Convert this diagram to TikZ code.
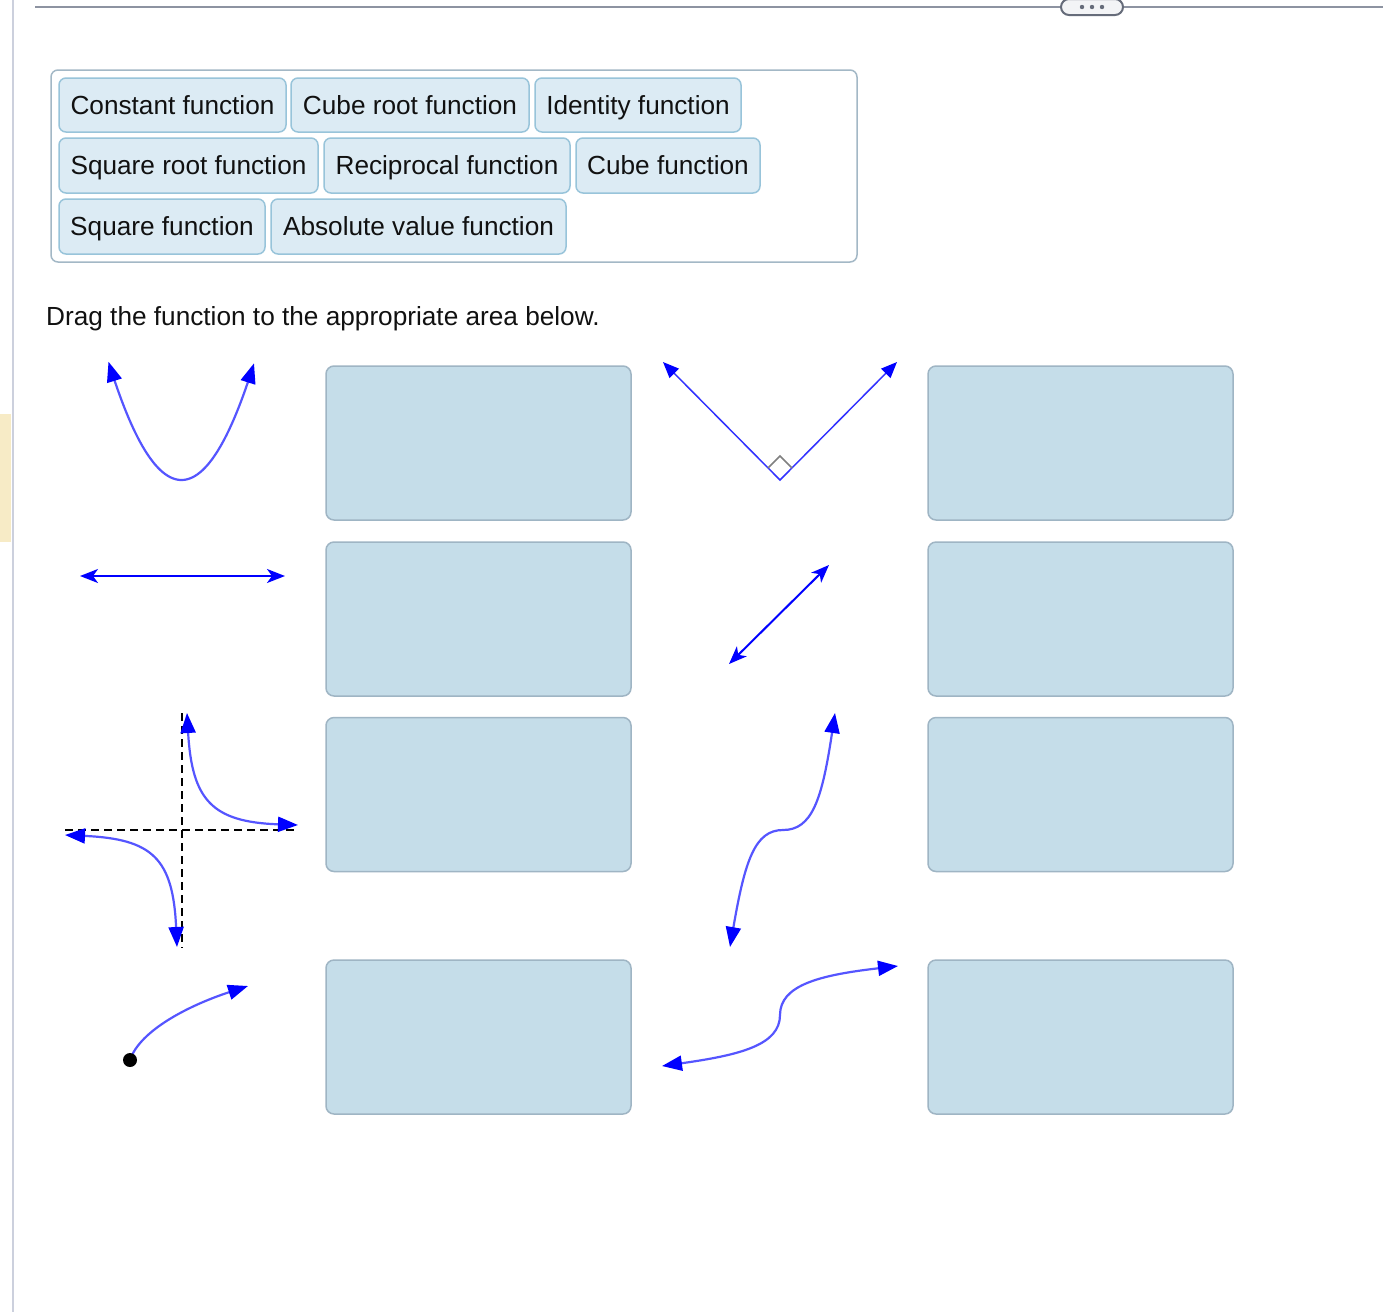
\documentclass[tikz,border=0pt]{standalone}
\usepackage{fontspec}
\setmainfont{Liberation Sans}
\usetikzlibrary{arrows.meta}
\definecolor{chipfill}{HTML}{DCEBF4}
\definecolor{chipline}{HTML}{98C4DA}
\definecolor{dropfill}{HTML}{C5DDE9}
\definecolor{dropline}{HTML}{9FB5C4}
\definecolor{outerline}{HTML}{A3B8C6}
\definecolor{sideline}{HTML}{CCD0DD}
\definecolor{topline}{HTML}{8D93A1}
\definecolor{pillline}{HTML}{666C7A}
\definecolor{pillfill}{HTML}{F3F4F6}
\definecolor{sidestrip}{HTML}{F7EBC6}
\definecolor{curveblue}{RGB}{85,85,255}
\definecolor{lineblue}{RGB}{50,50,255}
\definecolor{txt}{HTML}{111111}
\tikzset{
  ctip/.tip={Triangle[length=20pt,width=15pt,color=blue]},
  ttip/.tip={Triangle[length=16pt,width=13pt,color=blue]},
  stip/.tip={Stealth[length=18pt,width=14pt,inset=5pt,color=blue]}
}
\begin{document}
\begin{tikzpicture}[x=1pt,y=-1pt,
  every node/.style={font=\fontsize{26.2}{31}\selectfont, text=txt},
  chip/.style={draw=chipline, fill=chipfill, line width=1.5pt, rounded corners=7pt, minimum height=54pt, inner sep=0pt, text height=21pt, text depth=3pt},
  drop/.style={draw=dropline, fill=dropfill, line width=1.5pt, rounded corners=8pt, minimum width=305pt, minimum height=154pt, inner sep=0pt},
  curve/.style={draw=curveblue, line width=2.2pt},
  axis/.style={draw=black, line width=2.2pt, dash pattern=on 8pt off 5pt}
]
\useasboundingbox (0,0) rectangle (1383,1312);
\fill[white] (0,0) rectangle (1383,1312);
% page chrome
\fill[sidestrip] (0,414) rectangle (11,542);
\draw[sideline, line width=2pt] (13,0) -- (13,1312);
\node[draw=pillline, fill=pillfill, line width=2pt, rounded corners=8pt, minimum width=62pt, minimum height=16pt, inner sep=0pt] (pill) at (1092,7) {};
\coordinate (tlA) at (35,7);
\coordinate (tlB) at (1383,7);
\draw[topline, line width=2pt] (tlA) -- (pill.west);
\draw[topline, line width=2pt] (pill.east) -- (tlB);
\foreach \d in {1082,1092,1102} \fill[pillline] (\d,7) circle (2.2pt);
% word bank
\node[draw=outerline, fill=white, line width=1.5pt, rounded corners=7pt, minimum width=806pt, minimum height=192pt, inner sep=0pt] (bank) at (454,166) {};
\node[chip, minimum width=227pt] (c1) at (172.5,105) {Constant function};
\node[chip, minimum width=238pt] (c2) at (410,105) {Cube root function};
\node[chip, minimum width=206pt] (c3) at (638,105) {Identity function};
\node[chip, minimum width=259pt, minimum height=55pt] (c4) at (188.5,165.5) {Square root function};
\node[chip, minimum width=246pt, minimum height=55pt] (c5) at (447,165.5) {Reciprocal function};
\node[chip, minimum width=184pt, minimum height=55pt] (c6) at (668,165.5) {Cube function};
\node[chip, minimum width=206pt, minimum height=55pt] (c7) at (162,226.5) {Square function};
\node[chip, minimum width=295pt, minimum height=55pt] (c8) at (418.5,226.5) {Absolute value function};
\node[anchor=base west, inner sep=0pt] (instr) at (46,325) {Drag the function to the appropriate area below.};
% drop zones
\node[drop] (d1) at (478.5,443) {};
\node[drop] (d2) at (1080.5,443) {};
\node[drop] (d3) at (478.5,619) {};
\node[drop] (d4) at (1080.5,619) {};
\node[drop] (d5) at (478.5,794.5) {};
\node[drop] (d6) at (1080.5,794.5) {};
\node[drop] (d7) at (478.5,1037) {};
\node[drop] (d8) at (1080.5,1037) {};
% square function
\draw[curve, ctip-ctip] plot[domain=-73:72.5, samples=60, smooth] ({181.5+\x},{480-0.0222*\x*\x});
% absolute value function
\coordinate (avL) at (663,362);
\coordinate (avV) at (780,480);
\coordinate (avR) at (897,362);
\draw[draw=lineblue, line width=1.5pt, ttip-ttip] (avL) -- (avV) -- (avR);
\draw[draw=gray, line width=1.5pt] (768,468) -- (780,456) -- (792,468);
% constant function
\coordinate (kL) at (80,576);
\coordinate (kR) at (285,576);
\draw[draw=blue, line width=2pt, stip-stip] (kL) -- (kR);
% identity function
\coordinate (iL) at (729,664);
\coordinate (iR) at (829,565);
\draw[draw=blue, line width=2pt, stip-stip] (iL) -- (iR);
% reciprocal function
\coordinate (hA) at (65,830);
\coordinate (hB) at (297,830);
\coordinate (vA) at (182,713);
\coordinate (vB) at (182,948);
\draw[axis] (hA) -- (hB);
\draw[axis] (vA) -- (vB);
\coordinate (r1a) at (187,713);
\coordinate (r1b) at (298,825);
\coordinate (r2a) at (65,835);
\coordinate (r2b) at (177,947);
\draw[curve, ctip-ctip] (r1a) .. controls (192,800) and (212,822) .. (r1b);
\draw[curve, ctip-ctip] (r2a) .. controls (152,839) and (173,858) .. (r2b);
% cube function
\coordinate (cuA) at (730,947);
\coordinate (cuM) at (783,830);
\coordinate (cuB) at (835,713);
\draw[curve, ctip-ctip] (cuA) .. controls (745,860) and (755,830) .. (cuM) .. controls (812,830) and (822,800) .. (cuB);
% square root function
\coordinate (sqA) at (130,1060);
\coordinate (sqB) at (248,986);
\draw[curve, -ctip] (sqA) .. controls (140,1030) and (190,1005) .. (sqB);
\fill[black] (sqA) circle (7pt);
% cube root function
\coordinate (crA) at (662,1066);
\coordinate (crM) at (780,1015);
\coordinate (crB) at (898,966);
\draw[curve, ctip-ctip] (crA) .. controls (740,1055) and (780,1045) .. (crM) .. controls (780,985) and (820,975) .. (crB);
\end{tikzpicture}
\end{document}
